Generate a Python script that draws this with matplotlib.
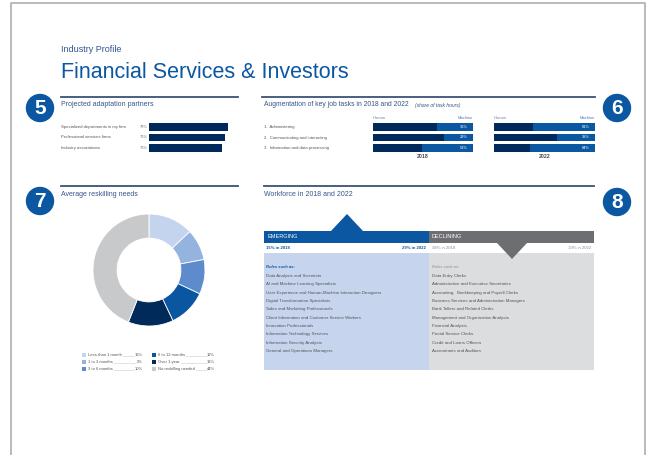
import matplotlib.pyplot as plt
from matplotlib.patches import Rectangle, Circle, Polygon

plt.rcParams['font.family'] = ['Liberation Sans', 'DejaVu Sans']

# ---- data ----
partners = ['Specialized departments in my firm', 'Professional services firms', 'Industry associations']
partner_pct = [79, 76, 73]

tasks = ['1.  Administering', '2.  Communicating and interacting', '3.  Information and data processing']
machine_2018 = [36, 29, 51]
machine_2022 = [61, 38, 64]

reskill_labels = ['Less than 1 month', '1 to 3 months', '3 to 6 months',
                  '6 to 12 months', 'Over 1 year', 'No reskilling needed']
reskill_pct = [13, 9, 10, 11, 13, 44]
reskill_colors = ['#c5d4ee', '#95b3df', '#5d8bcb', '#0b56a1', '#002a5a', '#c8c9cb']

emerging_share = ['15% in 2018', '29% in 2022']
declining_share = ['38% in 2018', '19% in 2022']
emerging_roles = ['Data Analysts and Scientists', 'AI and Machine Learning Specialists',
                  'User Experience and Human-Machine Interaction Designers',
                  'Digital Transformation Specialists', 'Sales and Marketing Professionals',
                  'Client Information and Customer Service Workers', 'Innovation Professionals',
                  'Information Technology Services', 'Information Security Analysts',
                  'General and Operations Managers']
declining_roles = ['Data Entry Clerks', 'Administrative and Executive Secretaries',
                   'Accounting,  Bookkeeping and Payroll Clerks',
                   'Business Services and Administration Managers', 'Bank Tellers and Related Clerks',
                   'Management and Organization Analysts', 'Financial Analysts',
                   'Postal Service Clerks', 'Credit and Loans Officers', 'Accountants and Auditors']

NAVY = '#002a5c'
BLUE = '#0b57a2'
HEAD = '#35568a'
RULE = '#3d5275'
TXT = '#555555'
W, H = 648, 455

fig = plt.figure(figsize=(W / 100, H / 100), dpi=100)
page = fig.add_axes([0, 0, 1, 1])
page.set_xlim(0, W)
page.set_ylim(H, 0)
page.axis('off')


def px_axes(x0, y0, x1, y1):
    a = fig.add_axes([x0 / W, 1 - y1 / H, (x1 - x0) / W, (y1 - y0) / H])
    a.axis('off')
    return a


def badge(x, y, n):
    page.add_patch(Circle((x, y), 13.5, color=BLUE))
    page.text(x, y + 0.5, str(n), ha='center', va='center', color='white',
              fontsize=15, fontweight='bold')


def section(x0, x1, y, title):
    page.plot([x0, x1], [y, y], color=RULE, lw=1.3)
    page.text(x0, y + 8, title, fontsize=5, color=HEAD, va='center')


# page frame
page.plot([11, 11, 645, 645], [H, 3, 3, H], color='#b4b4b4', lw=1.3)

page.text(61, 49, 'Industry Profile', fontsize=6.5, color='#2f5592', va='center')
page.text(61, 72, 'Financial Services & Investors', fontsize=15.5, color=BLUE, va='center')

# ---- 5: adaptation partners ----
section(61, 238, 97, 'Projected adaptation partners')
badge(40, 108, 5)
ax5 = px_axes(149, 121.75, 249, 153.25)
ax5.set_xlim(0, 100)
ax5.set_ylim(2.5, -0.5)
ax5.barh(range(3), partner_pct, height=0.72, color=NAVY)
for i, (lab, p) in enumerate(zip(partners, partner_pct)):
    ax5.text(-88, i, lab, fontsize=3.1, va='center', color=TXT)
    ax5.text(-9, i, f'{p}%', fontsize=2.9, va='center', color='#7a7a7a')

# ---- 6: augmentation ----
page.plot([262, 595], [97, 97], color=RULE, lw=1.3)
page.text(264, 105, 'Augmentation of key job tasks in 2018 and 2022', fontsize=4.85,
          color=HEAD, va='center')
page.text(415, 105.3, '(share of task hours)', fontsize=3.6, color=HEAD, va='center',
          style='italic')
badge(617, 108, 6)
for k, (x0, x1, vals, year) in enumerate([(373, 473, machine_2018, '2018'),
                                          (494, 595, machine_2022, '2022')]):
    a = px_axes(x0, 121.75, x1, 153.25)
    a.set_xlim(0, 100)
    a.set_ylim(2.5, -0.5)
    human = [100 - m for m in vals]
    a.barh(range(3), human, height=0.72, color=NAVY)
    a.barh(range(3), vals, left=human, height=0.72, color=BLUE)
    for i, m in enumerate(vals):
        a.text(95, i, f'{m}%', fontsize=2.9, va='center', ha='right', color='white')
    a.text(0, -0.88, 'Human', fontsize=2.9, va='center', color='#6f83a8')
    a.text(100, -0.88, 'Machine', fontsize=2.9, va='center', ha='right', color='#4f79b8')
    a.text(50, 2.85, year, fontsize=3.7, va='center', ha='center', color='#444444',
           fontweight='bold')
    if k == 0:
        for i, lab in enumerate(tasks):
            a.text(-109, i, lab, fontsize=3.1, va='center', color=TXT)

# ---- 7: reskilling donut ----
section(61, 238, 186, 'Average reskilling needs')
badge(40, 201, 7)
axd = px_axes(93, 214, 205, 326)
axd.pie(reskill_pct, colors=reskill_colors, startangle=90, counterclock=False, radius=1,
        wedgeprops=dict(width=0.43, edgecolor='white', linewidth=0.6))
axd.set_xlim(-1, 1)
axd.set_ylim(-1, 1)

fig.canvas.draw()
rend = fig.canvas.get_renderer()
inv = page.transData.inverted()
for i, (lab, p, c) in enumerate(zip(reskill_labels, reskill_pct, reskill_colors)):
    col, row = divmod(i, 3)
    mx = [84, 154][col]
    rx = [143, 215][col]
    y = [355, 362, 369][row]
    page.add_patch(Rectangle((mx - 1.8, y - 1.8), 3.6, 3.6, color=c, lw=0))
    tl = page.text(mx + 4.5, y, lab, fontsize=3.0, va='center', color=TXT)
    tp = page.text(rx, y, f'{p}%', fontsize=3.0, va='center', ha='right', color=TXT)
    e1 = inv.transform(tl.get_window_extent(rend))
    e2 = inv.transform(tp.get_window_extent(rend))
    page.plot([e1[1][0] + 0.6, e2[0][0] - 0.6], [y + 1.2, y + 1.2], color=TXT, lw=0.4,
              ls=(0, (0.5, 1.2)))

# ---- 8: workforce ----
section(264, 594, 186, 'Workforce in 2018 and 2022')
badge(617, 202, 8)
page.add_patch(Rectangle((264, 253), 165, 117, color='#c6d4ed', lw=0))
page.add_patch(Rectangle((429, 253), 165, 117, color='#dcdddf', lw=0))
page.add_patch(Rectangle((264, 231), 165, 12, color=BLUE, lw=0))
page.add_patch(Rectangle((429, 231), 165, 12, color='#6d6e71', lw=0))
page.add_patch(Polygon([(331, 231), (347, 214), (363, 231)], color=BLUE, lw=0))
page.add_patch(Polygon([(497, 243), (512, 259), (527, 243)], color='#6d6e71', lw=0, zorder=5))
page.text(267, 237, 'EMERGING', fontsize=4.0, color='white', va='center')
page.text(432, 237, 'DECLINING', fontsize=4.0, color='white', va='center')
page.text(266, 248, emerging_share[0], fontsize=3.1, color=BLUE, va='center', fontweight='bold')
page.text(426, 248, emerging_share[1], fontsize=3.1, color=BLUE, va='center', ha='right',
          fontweight='bold')
page.text(432, 248, declining_share[0], fontsize=3.1, color='#8a8a8a', va='center')
page.text(591, 248, declining_share[1], fontsize=3.1, color='#8a8a8a', va='center', ha='right')
page.text(266, 267, 'Roles such as:', fontsize=3.0, color=BLUE, va='center', style='italic',
          fontweight='bold')
page.text(432, 267, 'Roles such as:', fontsize=3.0, color='#8a8a8a', va='center',
          style='italic')
for i, r in enumerate(emerging_roles):
    page.text(266, 276 + i * 8.35, r, fontsize=3.15, color=TXT, va='center')
for i, r in enumerate(declining_roles):
    page.text(432, 276 + i * 8.35, r, fontsize=3.15, color=TXT, va='center')

fig.savefig('out.png', dpi=100)
